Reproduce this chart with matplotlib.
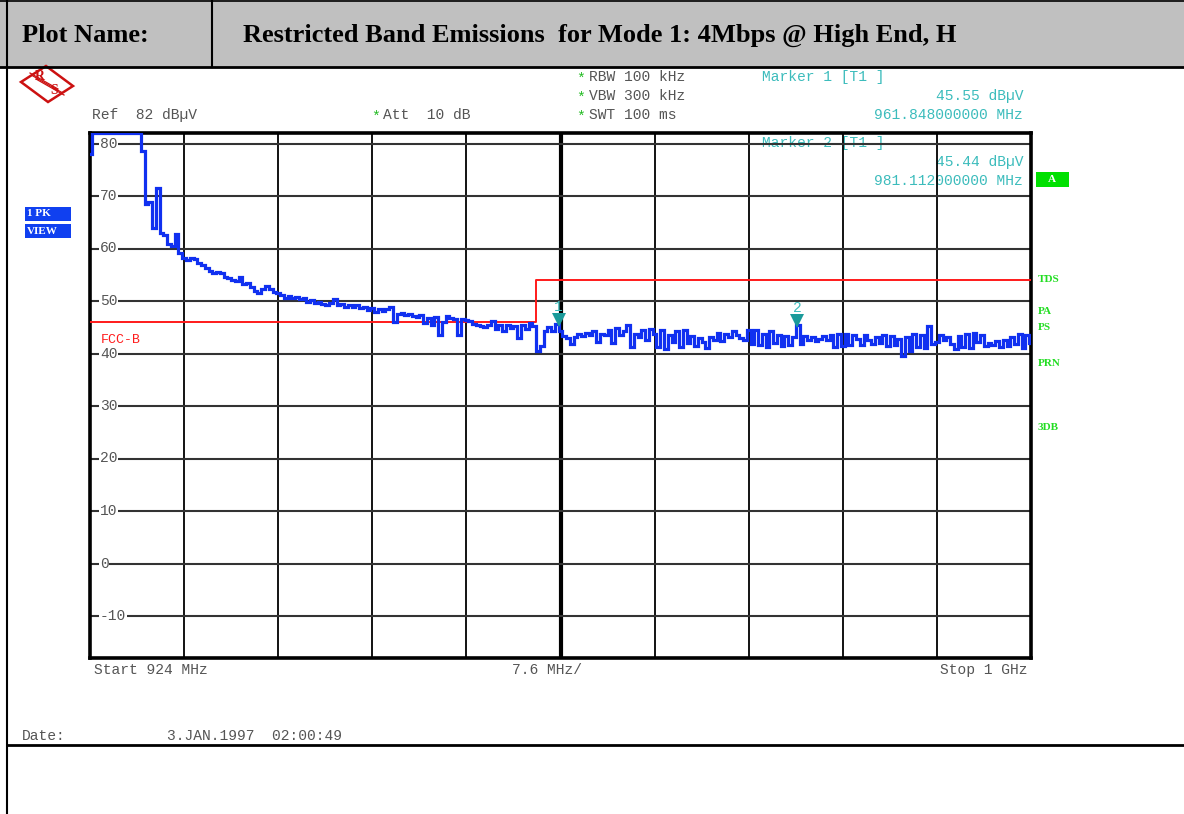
import numpy as np
import matplotlib
matplotlib.use('Agg')
import matplotlib.pyplot as plt
from matplotlib.patches import Rectangle, Polygon
import matplotlib.transforms as mtransforms

# ---------------- data ----------------
start_mhz = 924.0
stop_mhz = 1000.0
ref_level = 82
bottom_level = -18
y_ticks = [80, 70, 60, 50, 40, 30, 20, 10, 0, -10]
n_div = 10

limit_freqs = [924.0, 960.0, 960.0, 1000.0]
limit_levels = [46.0, 46.0, 54.0, 54.0]

marker_freqs = [961.848, 981.112]
marker_levels = [45.55, 45.44]
marker_labels = ['1', '2']

# trace levels (dBuV) on the 251 sweep points between start and stop
levels = [
    78.0, 82.0, 82.0, 82.0, 82.0, 82.0, 82.0, 82.0, 82.0, 82.0,
    82.0, 82.0, 82.0, 82.0, 78.5, 68.5, 68.8, 64.0, 71.5, 63.0,
    62.5, 60.8, 60.5, 62.8, 59.2,
    58.2, 57.8, 58.2, 58.0, 57.3, 56.8, 56.3, 55.8, 55.4, 55.6,
    55.3, 54.6, 54.4, 54.0, 53.8, 54.6, 53.2, 53.4, 52.6, 52.0,
    51.6, 52.2, 52.8, 52.3, 51.8,
    51.6, 51.2, 50.6, 51.0, 50.5, 50.8, 50.4, 50.6, 49.9, 50.2,
    49.7, 49.9, 49.5, 49.3, 49.6, 50.3, 49.2, 49.5, 48.9, 49.2,
    48.8, 49.3, 48.6, 48.9, 48.2,
    48.7, 47.9, 48.4, 48.1, 48.5, 48.8, 46.0, 47.5, 47.8, 47.4,
    47.6, 47.2, 46.9, 47.4, 45.8, 46.8, 45.5, 47.0, 43.6, 46.0,
    47.2, 46.8, 46.5, 43.6, 46.5,
    46.3, 46.2, 45.6, 45.4, 45.2, 45.0, 45.4, 46.2, 44.6, 45.4,
    44.2, 45.5, 44.8, 45.2, 43.0, 45.5, 44.6, 45.8, 45.3, 40.4,
    41.5, 44.2, 45.0, 44.3, 45.55,
    44.2, 43.4, 43.0, 41.8, 43.2, 43.8, 43.4, 44.0, 43.6, 44.2,
    42.2, 43.8, 43.5, 44.4, 42.0, 44.8, 43.6, 44.3, 45.4, 41.2,
    43.8, 43.2, 44.5, 42.5, 44.6,
    43.8, 41.2, 44.5, 40.8, 43.5, 42.2, 44.3, 41.3, 44.5, 42.0,
    43.4, 41.5, 43.0, 42.2, 41.0, 43.2, 42.6, 44.0, 42.3, 43.7,
    43.2, 44.2, 43.6, 43.0, 42.5,
    44.5, 41.8, 44.4, 41.6, 43.8, 41.3, 44.2, 42.0, 43.6, 41.4,
    43.4, 41.6, 43.2, 45.44, 41.8, 43.3, 42.6, 43.1, 42.4, 42.8,
    43.4, 42.5, 43.6, 41.2, 43.8,
    41.5, 43.8, 41.6, 43.5, 42.8, 41.6, 43.6, 42.5, 41.8, 43.2,
    42.0, 43.5, 41.4, 43.4, 41.6, 42.8, 39.6, 43.2, 40.4, 43.8,
    41.2, 43.5, 41.0, 45.2, 41.8,
    42.2, 43.6, 42.6, 43.2, 41.8, 40.8, 43.4, 41.2, 43.8, 41.0,
    44.0, 42.2, 43.6, 41.5, 42.0, 41.6, 42.3, 41.2, 42.5, 41.4,
    43.2, 41.8, 43.7, 41.0, 43.5, 42.0,
]
freqs = np.linspace(start_mhz, stop_mhz, len(levels))

# ---------------- styles ----------------
W, H = 1184, 814
GRAY_TXT = '#555555'
CYAN = '#3cbcbc'
TEAL = '#1a9a9a'
GREEN = '#22dd22'
BLUE = '#1030f0'
RED = '#ff1a1a'
LOGO_RED = '#cc1111'
MONO = ['Liberation Mono', 'DejaVu Sans Mono']
SERIF = ['Liberation Serif', 'DejaVu Serif']

fig = plt.figure(figsize=(W / 100, H / 100), dpi=100)
fig.patch.set_facecolor('white')

# background axes in pixel coordinates (y downwards)
bg = fig.add_axes([0, 0, 1, 1], zorder=0)
bg.set_xlim(0, W)
bg.set_ylim(H, 0)
bg.axis('off')

# header
bg.add_patch(Rectangle((0, 0), W, 67, facecolor='#c0c0c0', edgecolor='none'))
bg.plot([0, W], [67, 67], color='black', lw=2)
bg.plot([0, W], [1, 1], color='black', lw=1.2)
bg.plot([212, 212], [0, 67], color='black', lw=1.5)
bg.plot([7, 7], [0, H], color='black', lw=1.5)
bg.plot([7, W], [745, 745], color='black', lw=2)
bg.text(22, 35, 'Plot Name:', family=SERIF, weight='bold', fontsize=19,
        va='center', ha='left', color='black')
bg.text(243, 35, 'Restricted Band Emissions  for Mode 1: 4Mbps @ High End, H',
        family=SERIF, weight='bold', fontsize=19, va='center', ha='left', color='black')

# R&S logo
cx, cy = 47, 84
logo = Polygon([(cx - 26, cy - 2), (cx - 1, cy - 18), (cx + 26, cy + 2), (cx + 1, cy + 18)],
               closed=True, facecolor='none', edgecolor=LOGO_RED, lw=1.8)
bg.add_patch(logo)
for d in (-3, 0, 3):
    bg.plot([cx - 14 + d, cx + 14 + d], [cy - 8 + d, cy + 8 + d], color=LOGO_RED, lw=0.9)
bg.text(cx - 7, cy - 7, 'R', family=SERIF, weight='bold', fontsize=10,
        color=LOGO_RED, ha='center', va='center')
bg.text(cx + 7, cy + 6, 'S', family=SERIF, weight='bold', fontsize=10,
        color=LOGO_RED, ha='center', va='center')

fs = 10.5
# instrument settings text
bg.text(92, 115, 'Ref  82 dB\u00b5V', family=MONO, fontsize=fs, color=GRAY_TXT, va='center')
bg.text(371, 117, '*', family=MONO, fontsize=fs, color='#22bb22', va='center')
bg.text(383, 115, 'Att  10 dB', family=MONO, fontsize=fs, color=GRAY_TXT, va='center')
for yy, s in [(77, 'RBW 100 kHz'), (96, 'VBW 300 kHz'), (115, 'SWT 100 ms')]:
    bg.text(576, yy + 2, '*', family=MONO, fontsize=fs, color='#22bb22', va='center')
    bg.text(589, yy, s, family=MONO, fontsize=fs, color=GRAY_TXT, va='center')

# marker readouts
for (y0, lab, lev, fr) in [(77, '1', marker_levels[0], marker_freqs[0]),
                           (143, '2', marker_levels[1], marker_freqs[1])]:
    bg.text(762, y0, f'Marker {lab} [T1 ]', family=MONO, fontsize=fs, color=CYAN, va='center', zorder=5)
    bg.text(1023, y0 + 19, f'{lev:.2f} dB\u00b5V', family=MONO, fontsize=fs, color=CYAN,
            va='center', ha='right', zorder=5)
    bg.text(1023, y0 + 38, f'{fr:.9f} MHz', family=MONO, fontsize=fs, color=CYAN,
            va='center', ha='right', zorder=5)

# left boxes
for (y0, s) in [(214, '1 PK'), (231, 'VIEW')]:
    bg.add_patch(Rectangle((25, y0 - 7), 46, 14, facecolor='#1040f0', edgecolor='none'))
    bg.text(27, y0, s, family=SERIF, weight='bold', fontsize=8, color='white', va='center', ha='left')

# right side labels
bg.add_patch(Rectangle((1036, 172), 33, 15, facecolor='#00e000', edgecolor='none'))
bg.text(1052, 180, 'A', family=SERIF, weight='bold', fontsize=8, color='white', va='center', ha='center')
for yy, s in [(279, 'TDS'), (311, 'PA'), (328, 'PS'), (363, 'PRN'), (428, '3DB')]:
    bg.text(1038, yy, s, family=SERIF, weight='bold', fontsize=8, color=GREEN, va='center', ha='left')

# bottom text
bg.text(94, 670, 'Start 924 MHz', family=MONO, fontsize=fs, color=GRAY_TXT, va='center')
bg.text(512, 670, '7.6 MHz/', family=MONO, fontsize=fs, color=GRAY_TXT, va='center')
bg.text(1028, 670, 'Stop 1 GHz', family=MONO, fontsize=fs, color=GRAY_TXT, va='center', ha='right')
bg.text(22, 736, 'Date:', family=MONO, fontsize=fs, color=GRAY_TXT, va='center')
bg.text(167, 736, '3.JAN.1997  02:00:49', family=MONO, fontsize=fs, color=GRAY_TXT, va='center')

# ---------------- main plot ----------------
L, R, T, B = 90, 1031, 133, 658
ax = fig.add_axes([L / W, 1 - B / H, (R - L) / W, (B - T) / H], zorder=2)
ax.patch.set_alpha(0)
ax.set_xlim(start_mhz, stop_mhz)
ax.set_ylim(bottom_level, ref_level)
ax.set_xticks([])
ax.set_yticks([])
for sp in ax.spines.values():
    sp.set_linewidth(2.6)
    sp.set_color('black')

step = (stop_mhz - start_mhz) / n_div
for k in range(1, n_div):
    ax.axvline(start_mhz + k * step, color='black', lw=3.0 if k == n_div // 2 else 1.3, zorder=1)
for v in y_ticks:
    ax.axhline(v, color='#333333', lw=1.5, zorder=1)
    ax.text(0.0105, v, f'{v}', transform=ax.get_yaxis_transform(), family=MONO,
            fontsize=fs, color=GRAY_TXT, va='center', ha='left', zorder=2,
            bbox=dict(facecolor='white', edgecolor='none', pad=0.4))

# limit line
ax.plot(limit_freqs, limit_levels, color=RED, lw=1.4, zorder=3)
ax.text(0.0117, 42.6, 'FCC-B', transform=ax.get_yaxis_transform(), family=MONO,
        fontsize=9.5, color=RED, va='center', ha='left', zorder=3)

# trace
ax.plot(freqs, levels, drawstyle='steps-mid', color=BLUE, lw=2.3, zorder=4,
        solid_joinstyle='miter')

# markers
up = mtransforms.offset_copy(ax.transData, fig=fig, x=0, y=4, units='dots')
up2 = mtransforms.offset_copy(ax.transData, fig=fig, x=0, y=17, units='dots')
for f, lv, lab in zip(marker_freqs, marker_levels, marker_labels):
    ax.plot([f], [lv], marker='v', markersize=10, color=TEAL, transform=up,
            zorder=5, clip_on=False, markeredgewidth=0)
    ax.text(f, lv, lab, transform=up2, family=MONO, fontsize=fs, color=CYAN,
            ha='center', va='center', zorder=5)

fig.savefig('out.png', dpi=100, facecolor='white')
